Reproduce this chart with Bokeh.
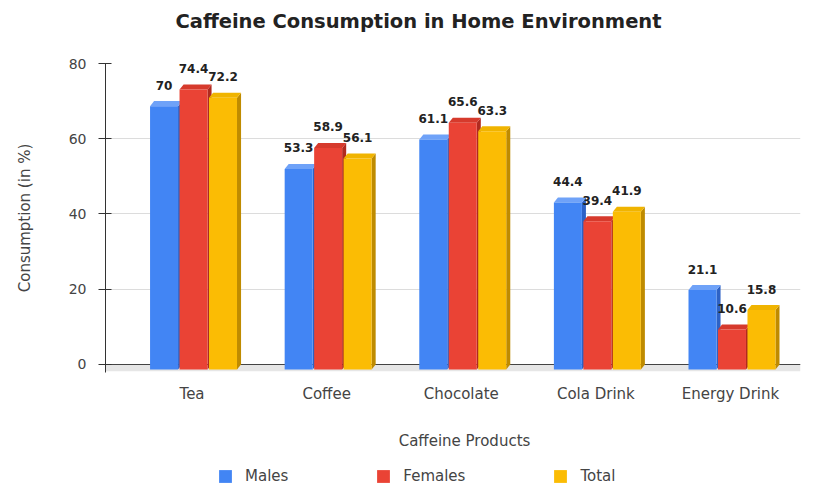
from bokeh.plotting import figure
from bokeh.layouts import column
from bokeh.models import Range1d, FixedTicker, Legend, LegendItem, Label
from bokeh.embed import file_html
from bokeh.resources import INLINE
from bokeh.core.properties import value

# ---- data ----
categories = ["Tea", "Coffee", "Chocolate", "Cola Drink", "Energy Drink"]
males = [70, 53.3, 61.1, 44.4, 21.1]
females = [74.4, 58.9, 65.6, 39.4, 10.6]
total = [72.2, 56.1, 63.3, 41.9, 15.8]
series_names = ["Males", "Females", "Total"]
y_ticks = [0, 20, 40, 60, 80]
chart_title = "Caffeine Consumption in Home Environment"
x_title = "Caffeine Products"
y_title = "Consumption (in %)"

# ---- style ----
FONT = "DejaVu Sans"
front_colors = ["#4285F4", "#EA4335", "#FBBC04"]
side_colors = ["#2D62C6", "#B02A1F", "#BF8B00"]
top_colors = ["#6FA2F8", "#D63A2C", "#F0B400"]
TEXT = "#444444"

W = 814
H_TOP, H_MAIN, H_BOT = 40, 366, 80
X0, X1 = -0.643, 4.52
Y0, Y1 = -2.13, 80


def strip(height):
    f = figure(width=W, height=height, x_range=Range1d(0, 1), y_range=Range1d(0, 1),
               output_backend="svg", toolbar_location=None, title=None,
               min_border_left=105, min_border_right=14, min_border_top=0, min_border_bottom=0)
    f.axis.visible = False
    f.grid.grid_line_color = None
    f.outline_line_color = None
    return f


# ---- title strip ----
pt = strip(H_TOP)
pt.add_layout(Label(x=313, y=19, x_units="screen", y_units="screen", text=chart_title,
                    text_align="center", text_baseline="middle", text_font=FONT,
                    text_font_size="19.5px", text_font_style="bold", text_color="#222222"))

# ---- main chart ----
p = figure(width=W, height=H_MAIN, x_range=Range1d(X0, X1), y_range=Range1d(Y0, Y1),
           output_backend="svg", toolbar_location=None, title=None,
           min_border_left=105, min_border_right=14, min_border_top=23, min_border_bottom=34)
p.outline_line_color = None
p.background_fill_color = "white"

p.xaxis.ticker = FixedTicker(ticks=list(range(len(categories))))
p.xaxis.major_label_overrides = {i: c for i, c in enumerate(categories)}
p.xaxis.axis_line_color = None
p.xaxis.major_tick_line_color = None
p.xaxis.minor_tick_line_color = None
p.xaxis.major_tick_out = 0
p.xaxis.major_label_standoff = 12
p.xaxis.major_label_text_font = FONT
p.xaxis.major_label_text_font_size = "15px"
p.xaxis.major_label_text_color = TEXT

p.yaxis.ticker = FixedTicker(ticks=y_ticks)
p.yaxis.axis_line_color = "#333333"
p.yaxis.major_tick_line_color = "#333333"
p.yaxis.major_tick_in = 6
p.yaxis.major_tick_out = 7
p.yaxis.minor_tick_line_color = None
p.yaxis.major_label_standoff = 12
p.yaxis.major_label_text_font = FONT
p.yaxis.major_label_text_font_size = "14px"
p.yaxis.major_label_text_color = TEXT
p.yaxis.axis_label = y_title
p.yaxis.axis_label_text_font = FONT
p.yaxis.axis_label_text_font_size = "15px"
p.yaxis.axis_label_text_font_style = "normal"
p.yaxis.axis_label_text_color = TEXT
p.yaxis.axis_label_standoff = 32

p.xgrid.grid_line_color = None
p.ygrid.ticker = FixedTicker(ticks=y_ticks)
p.ygrid.grid_line_color = "#dcdcdc"

# 3D geometry (data units)
offsets = [-0.219, 0.0, 0.219]
shift = 0.011
bw = 0.208
dxu = 0.03
dyu = 1.33

# floor and zero line
p.quad(left=[X0], right=[X1], bottom=[-dyu - 0.5], top=[0], fill_color="#e6e6e6", line_color=None)
p.hspan(y=[0], line_color="#444444", line_width=1.2)

xs = list(range(len(categories)))
label_sets = []
for k, (name, vals) in enumerate(zip(series_names, [males, females, total])):
    xl = [x + shift + offsets[k] - bw / 2 for x in xs]
    xr = [a + bw for a in xl]
    side_xs = [[r, r + dxu, r + dxu, r] for r in xr]
    side_ys = [[-dyu, 0, v, v - dyu] for v in vals]
    top_xs = [[l, r, r + dxu, l + dxu] for l, r in zip(xl, xr)]
    top_ys = [[v - dyu, v - dyu, v, v] for v in vals]
    p.patches(side_xs, side_ys, fill_color=side_colors[k], line_color=None)
    p.patches(top_xs, top_ys, fill_color=top_colors[k], line_color=None)
    p.quad(left=xl, right=xr, bottom=[-dyu] * len(vals), top=[v - dyu for v in vals],
           fill_color=front_colors[k], line_color=None)
    label_sets.append(([(l + rr) / 2 for l, rr in zip(xl, xr)], vals))

for cx, vals in label_sets:
    p.text(x=cx, y=vals, text=[f"{v:g}" for v in vals], text_align="center",
           text_baseline="middle", y_offset=-16, text_font=value(FONT),
           text_font_size="12px", text_font_style="bold", text_color="#222222")

# ---- bottom strip: x-axis title + legend ----
pb = strip(H_BOT)
pb.add_layout(Label(x=359, y=46, x_units="screen", y_units="screen", text=x_title,
                    text_align="center", text_baseline="middle", text_font=FONT,
                    text_font_size="15px", text_color=TEXT))
items = []
for k, name in enumerate(series_names):
    # legend swatch renderer, kept outside the visible range
    r = pb.quad(left=[-3], right=[-2], bottom=[-3], top=[-2],
                fill_color=front_colors[k], line_color=None)
    items.append(LegendItem(label=name, renderers=[r]))
legend = Legend(items=items, location=(112, 1), orientation="horizontal",
                spacing=87, glyph_width=16, glyph_height=16, label_standoff=12,
                label_height=18, padding=0, margin=0, border_line_color=None,
                background_fill_alpha=0, label_text_font=FONT,
                label_text_font_size="15px", label_text_color=TEXT)
pb.add_layout(legend)

layout = column(pt, p, pb, spacing=0)
open("out.html", "w").write(file_html(layout, INLINE))
